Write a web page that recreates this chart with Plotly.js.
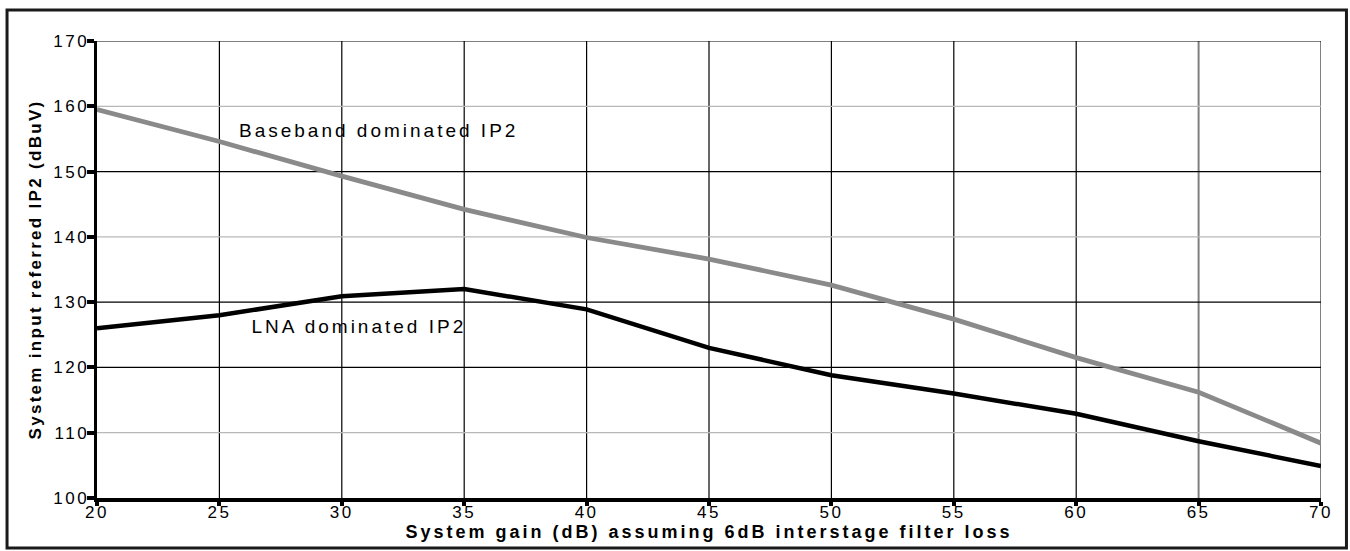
<!DOCTYPE html>
<html>
<head>
<meta charset="utf-8">
<script src="https://cdn.plot.ly/plotly-3.0.1.min.js"></script>
<style>
  html, body { margin: 0; padding: 0; background: #fff; }
  #chart { width: 1350px; height: 551px; }
  #chart svg .xtick text, #chart svg .ytick text { letter-spacing: 2.5px; }
  #chart svg .g-xtitle text { letter-spacing: 3px; }
  #chart svg .g-ytitle text { letter-spacing: 2.3px; }
  #chart svg .annotation-text { letter-spacing: 3px; }
</style>
</head>
<body>
<div id="chart"></div>
<script>
// ---- data ----
const gain = [20, 25, 30, 35, 40, 45, 50, 55, 60, 65, 70];
const basebandIP2 = [159.5, 154.6, 149.3, 144.2, 139.9, 136.6, 132.6, 127.4, 121.5, 116.2, 108.4];
const lnaIP2 = [126.0, 128.0, 130.9, 132.0, 128.9, 123.0, 118.8, 116.0, 112.9, 108.7, 104.9];

const xTicks = [20, 25, 30, 35, 40, 45, 50, 55, 60, 65, 70];
const yTicks = [100, 110, 120, 130, 140, 150, 160, 170];

const xGridLines = [25, 30, 35, 40, 45, 50, 55, 60, 65, 70];
const xGridColors = ['#000', '#000', '#000', '#000', '#000', '#000', '#000', '#000', '#808080', '#808080'];
const yGridLines = [110, 120, 130, 140, 150, 160, 170];
const yGridColors = ['#b8b8b8', '#000', '#000', '#b8b8b8', '#000', '#b8b8b8', '#000'];

const labels = [
  {text: 'Baseband dominated IP2', x: 31.5, y: 156.3},
  {text: 'LNA dominated IP2', x: 30.7, y: 126.3}
];

const FONT = '"Liberation Sans", Arial, Helvetica, sans-serif';

const traces = [
  {x: gain, y: basebandIP2, type: 'scatter', mode: 'lines',
   line: {color: '#8a8a8a', width: 4.8}, name: 'Baseband dominated IP2', hoverinfo: 'x+y'},
  {x: gain, y: lnaIP2, type: 'scatter', mode: 'lines',
   line: {color: '#000', width: 4.5}, name: 'LNA dominated IP2', hoverinfo: 'x+y'}
];

const shapes = [];
xGridLines.forEach((v, i) => shapes.push({type: 'line', xref: 'x', yref: 'paper', x0: v, x1: v, y0: 0, y1: 1,
  line: {color: xGridColors[i], width: xGridColors[i] === '#000' ? 1.2 : 2}, layer: 'below'}));
yGridLines.forEach((v, i) => shapes.push({type: 'line', xref: 'paper', yref: 'y', x0: 0, x1: 1, y0: v, y1: v,
  line: {color: yGridColors[i], width: 1.2}, layer: 'below'}));
// outer frame
shapes.push({type: 'rect', xref: 'paper', yref: 'paper', x0: -0.0735, x1: 1.0208, y0: -0.1094, y1: 1.0678,
  line: {color: '#1a1a1a', width: 3}, fillcolor: 'rgba(0,0,0,0)', layer: 'below'});

const layout = {
  width: 1350, height: 551,
  margin: {l: 97, r: 29, t: 41, b: 53},
  paper_bgcolor: '#fff', plot_bgcolor: '#fff',
  showlegend: false,
  font: {family: FONT, color: '#000', size: 16},
  xaxis: {
    range: [20, 70], tickvals: xTicks, ticktext: xTicks.map(String),
    showgrid: false, zeroline: false,
    showline: true, linecolor: '#000', linewidth: 3.5,
    ticks: 'outside', ticklen: 4, tickwidth: 4, tickcolor: '#000',
    ticklabelstandoff: -8,
    tickfont: {size: 17, family: FONT},
    title: {text: 'System gain (dB) assuming 6dB interstage filter loss', standoff: 2,
            font: {size: 18, family: FONT, weight: 'bold'}}
  },
  yaxis: {
    range: [100, 170], tickvals: yTicks, ticktext: yTicks.map(String),
    showgrid: false, zeroline: false,
    showline: true, linecolor: '#000', linewidth: 3.5,
    ticks: 'outside', ticklen: 7, tickwidth: 4, tickcolor: '#000',
    ticklabelstandoff: -6,
    tickfont: {size: 17, family: FONT},
    title: {text: 'System input referred IP2 (dBuV)', standoff: 16,
            font: {size: 17, family: FONT, weight: 'bold'}}
  },
  shapes: shapes,
  annotations: labels.map(l => ({text: l.text, x: l.x, y: l.y, xref: 'x', yref: 'y',
    xanchor: 'center', yanchor: 'middle', showarrow: false, font: {size: 19, family: FONT, color: '#000'}}))
};

Plotly.newPlot('chart', traces, layout, {displayModeBar: false, staticPlot: true});
</script>
</body>
</html>
